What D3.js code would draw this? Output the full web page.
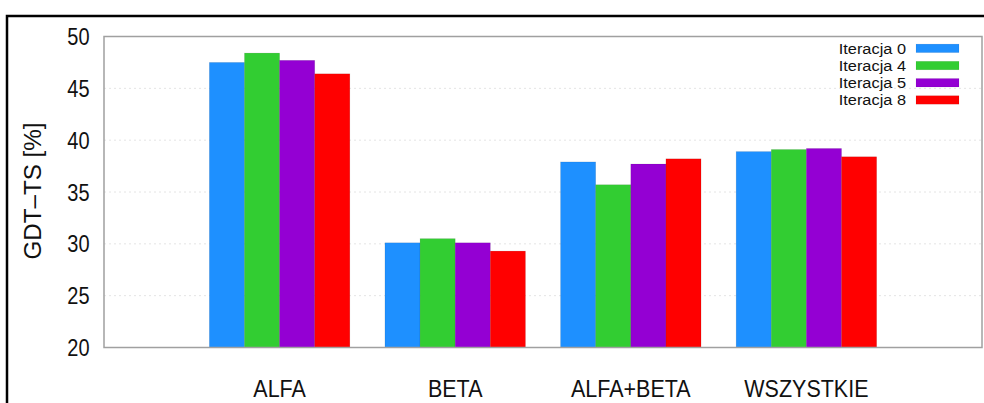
<!DOCTYPE html>
<html><head><meta charset="utf-8">
<script src="https://cdn.jsdelivr.net/npm/d3@7"></script>
<style>body{margin:0;background:#fff}svg{display:block}text{font-family:"Liberation Sans",Arial,sans-serif;fill:#111}</style>
</head><body><div id="c"></div>
<script>
const categories = ["ALFA", "BETA", "ALFA+BETA", "WSZYSTKIE"];
const seriesNames = ["Iteracja 0", "Iteracja 4", "Iteracja 5", "Iteracja 8"];
const iter0 = [47.5, 30.1, 37.9, 38.9];
const iter4 = [48.4, 30.5, 35.7, 39.1];
const iter5 = [47.7, 30.1, 37.7, 39.2];
const iter8 = [46.4, 29.3, 38.2, 38.4];
const yTicks = [20, 25, 30, 35, 40, 45, 50];
const colors = ["#1e90ff", "#32cd32", "#9400d3", "#ff0000"];
const series = [iter0, iter4, iter5, iter8];

const W = 984, H = 403;
const m = {l: 104, r: 2, t: 36.5, b: 347.5};
const svg = d3.select("#c").append("svg").attr("width", W).attr("height", H);

// outer frame
svg.append("path").attr("d", `M7,${H+5} L7,16 L${W+5},16`).attr("fill","none").attr("stroke","#000").attr("stroke-width",2.5);

const x = d3.scaleLinear().domain([0, 5]).range([m.l, W - m.r]);
const y = d3.scaleLinear().domain([20, 50]).range([m.b, m.t]);
const sub = d3.scaleBand().domain(seriesNames).range([-0.4, 0.4]);

function label(g, txt, tx, ty, size, anchor, sx, sy, rot) {
  return g.append("text").text(txt)
    .attr("transform", `translate(${tx},${ty})${rot ? " rotate(" + rot + ")" : ""} scale(${sx},${sy})`)
    .attr("text-anchor", anchor).style("font-size", size + "px");
}

// grid
svg.append("g").selectAll("line").data(yTicks.slice(1, -1)).join("line")
  .attr("x1", m.l).attr("x2", W - m.r).attr("y1", d => y(d)).attr("y2", d => y(d))
  .attr("stroke", "#e4e4e4").attr("stroke-width", 1).attr("stroke-dasharray", "2,3");

// bars
const gb = svg.append("g");
categories.forEach((c, i) => {
  series.forEach((s, j) => {
    const x0 = x(i + 1 + sub(seriesNames[j]));
    const x1 = x(i + 1 + sub(seriesNames[j]) + sub.bandwidth());
    gb.append("rect").attr("x", x0).attr("width", x1 - x0)
      .attr("y", y(s[i])).attr("height", y(20) - y(s[i]))
      .attr("fill", colors[j]).attr("stroke", "rgba(0,0,0,0.12)").attr("stroke-width", 0.7);
  });
});

// plot box
svg.append("rect").attr("x", m.l).attr("y", m.t).attr("width", W - m.r - m.l).attr("height", m.b - m.t)
  .attr("fill", "none").attr("stroke", "#a0a0a0").attr("stroke-width", 1.5);

// y tick labels
const gt = svg.append("g");
yTicks.forEach(t => label(gt, String(t), 89.5, y(t) + 8.5, 20, "end", 1, 1.15));

// category labels
categories.forEach((c, i) => label(gt, c, x(i + 1), 397, 21.5, "middle", 1, 1.12));

// y axis title
label(gt, "GDT\u2013TS [%]", 41, 191, 22, "middle", 1.1, 1.1, -90);

// legend
const gl = svg.append("g");
seriesNames.forEach((n, j) => {
  const cy = 48.3 + j * 17.2;
  label(gl, n, 906, cy + 5.5, 14.6, "end", 1.12, 1.0);
  gl.append("rect").attr("x", 916).attr("y", cy - 4.2).attr("width", 43).attr("height", 8.5)
    .attr("fill", colors[j]).attr("stroke", "rgba(0,0,0,0.1)").attr("stroke-width", 0.6);
});
</script></body></html>
